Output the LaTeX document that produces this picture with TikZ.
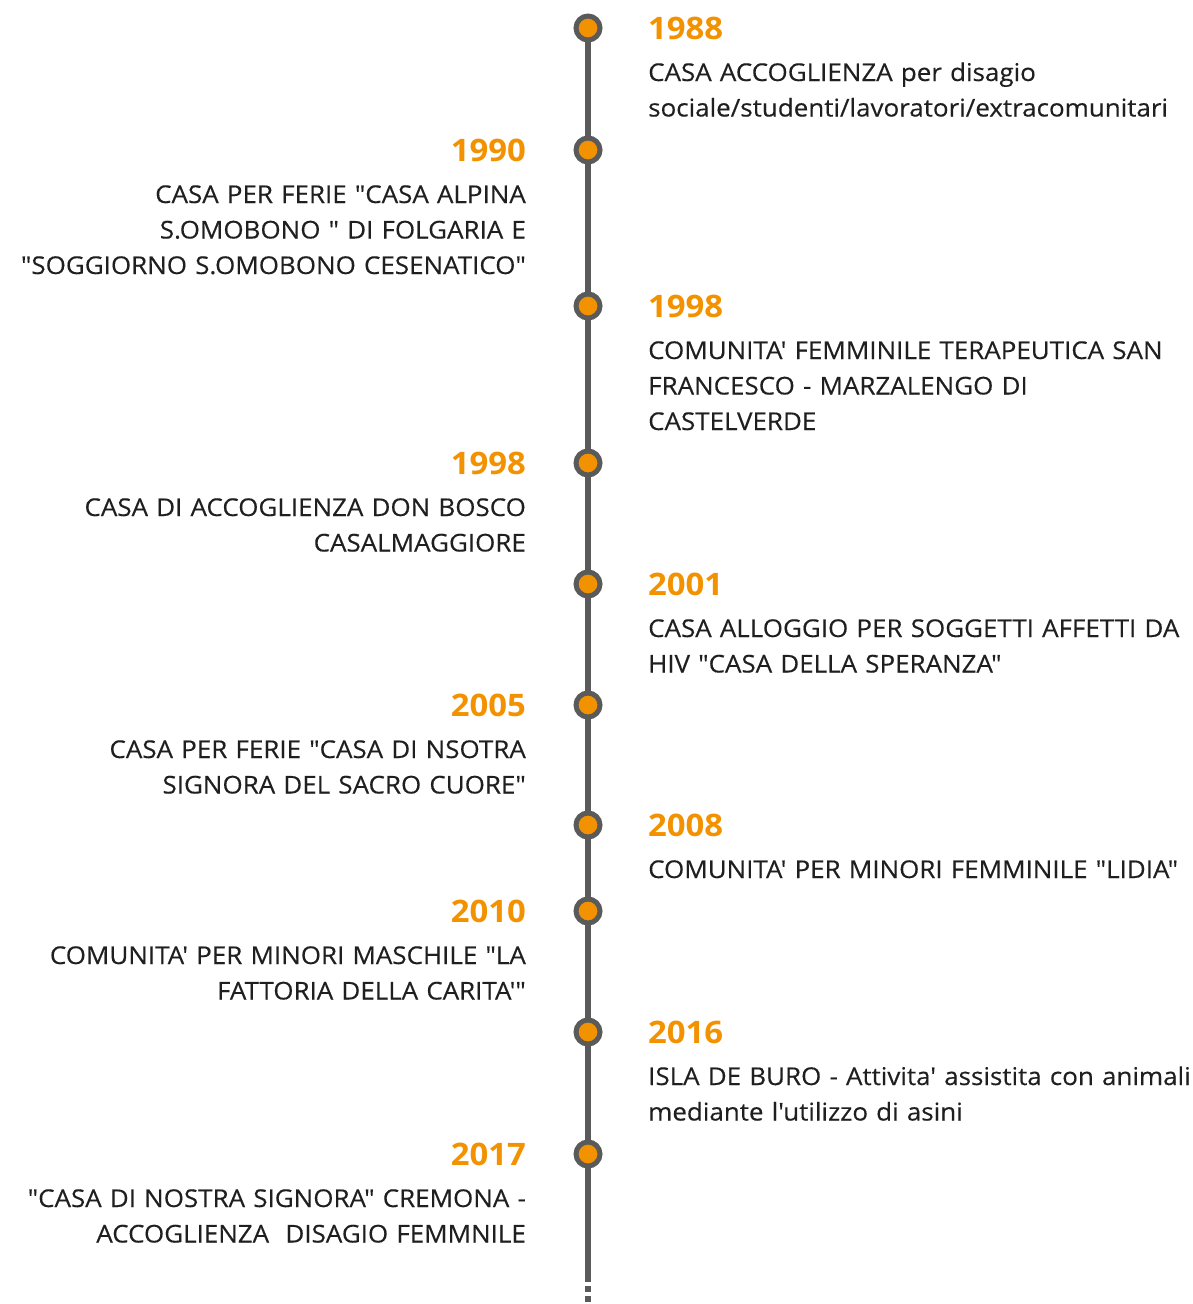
\documentclass[tikz,border=0pt]{standalone}
\usepackage{fontspec}
\newfontfamily\tlfont{Open Sans}[FakeStretch=1.06,UprightFeatures={FakeBold=0.3}]
\definecolor{tlorange}{HTML}{F39200}
\definecolor{tlgray}{HTML}{5A5A5A}
\definecolor{tltext}{HTML}{1F1F1F}
\begin{document}
\begin{tikzpicture}[x=1pt,y=-1pt,
  dot/.style={circle,fill=tlorange,draw=tlgray,line width=5pt,minimum size=24pt,inner sep=0pt},
  axis/.style={tlgray,line width=6pt},
  year/.style={inner sep=0pt,font=\tlfont\bfseries\fontsize{31}{31}\selectfont,text=tlorange},
  rdesc/.style={inner sep=0pt,anchor=base west,text width=560pt,align=left,
    font=\tlfont\fontsize{24.5}{35.5}\selectfont,text=tltext},
  ldesc/.style={inner sep=0pt,anchor=base east,text width=540pt,align=right,
    font=\tlfont\fontsize{24.5}{35.5}\selectfont,text=tltext}]
\useasboundingbox (0,0) rectangle (1192,1304);

% timeline axis
\coordinate (solidend) at (588,1276);
\coordinate (bottom) at (588,1304);
\path (588,28) coordinate (p1) (588,150) coordinate (p2) (588,306) coordinate (p3)
      (588,463) coordinate (p4) (588,584) coordinate (p5) (588,705) coordinate (p6)
      (588,825) coordinate (p7) (588,911) coordinate (p8) (588,1032) coordinate (p9)
      (588,1154) coordinate (p10);
\draw[axis] (p1) -- (solidend);
\draw[axis,dash pattern=on 6pt off 4pt] (solidend) -- (bottom);

\foreach \i in {1,...,10} \node[dot] (d\i) at (p\i) {};

% right-hand entries
\node[year,anchor=base west] (y1) at (648,39) {1988};
\node[rdesc] (t1) at (648,81) {CASA ACCOGLIENZA per disagio\\sociale/studenti/lavoratori/extracomunitari};

\node[year,anchor=base west] (y3) at (648,317) {1998};
\node[rdesc] (t3) at (648,359) {COMUNITA' FEMMINILE TERAPEUTICA SAN\\FRANCESCO - MARZALENGO DI\\CASTELVERDE};

\node[year,anchor=base west] (y5) at (648,595) {2001};
\node[rdesc] (t5) at (648,637) {CASA ALLOGGIO PER SOGGETTI AFFETTI DA\\HIV "CASA DELLA SPERANZA"};

\node[year,anchor=base west] (y7) at (648,836) {2008};
\node[rdesc] (t7) at (648,878) {COMUNITA' PER MINORI FEMMINILE "LIDIA"};

\node[year,anchor=base west] (y9) at (648,1043) {2016};
\node[rdesc] (t9) at (648,1085) {ISLA DE BURO - Attivita' assistita con animali\\mediante l'utilizzo di asini};

% left-hand entries
\node[year,anchor=base east] (y2) at (526,161) {1990};
\node[ldesc] (t2) at (526,203) {CASA PER FERIE "CASA ALPINA\\S.OMOBONO " DI FOLGARIA E\\"SOGGIORNO S.OMOBONO CESENATICO"};

\node[year,anchor=base east] (y4) at (526,474) {1998};
\node[ldesc] (t4) at (526,516) {CASA DI ACCOGLIENZA DON BOSCO\\CASALMAGGIORE};

\node[year,anchor=base east] (y6) at (526,716) {2005};
\node[ldesc] (t6) at (526,758) {CASA PER FERIE "CASA DI NSOTRA\\SIGNORA DEL SACRO CUORE"};

\node[year,anchor=base east] (y8) at (526,922) {2010};
\node[ldesc] (t8) at (526,964) {COMUNITA' PER MINORI MASCHILE "LA\\FATTORIA DELLA CARITA'"};

\node[year,anchor=base east] (y10) at (526,1165) {2017};
\node[ldesc] (t10) at (526,1207) {"CASA DI NOSTRA SIGNORA" CREMONA -\\ACCOGLIENZA\ \ DISAGIO FEMMNILE};
\end{tikzpicture}
\end{document}
